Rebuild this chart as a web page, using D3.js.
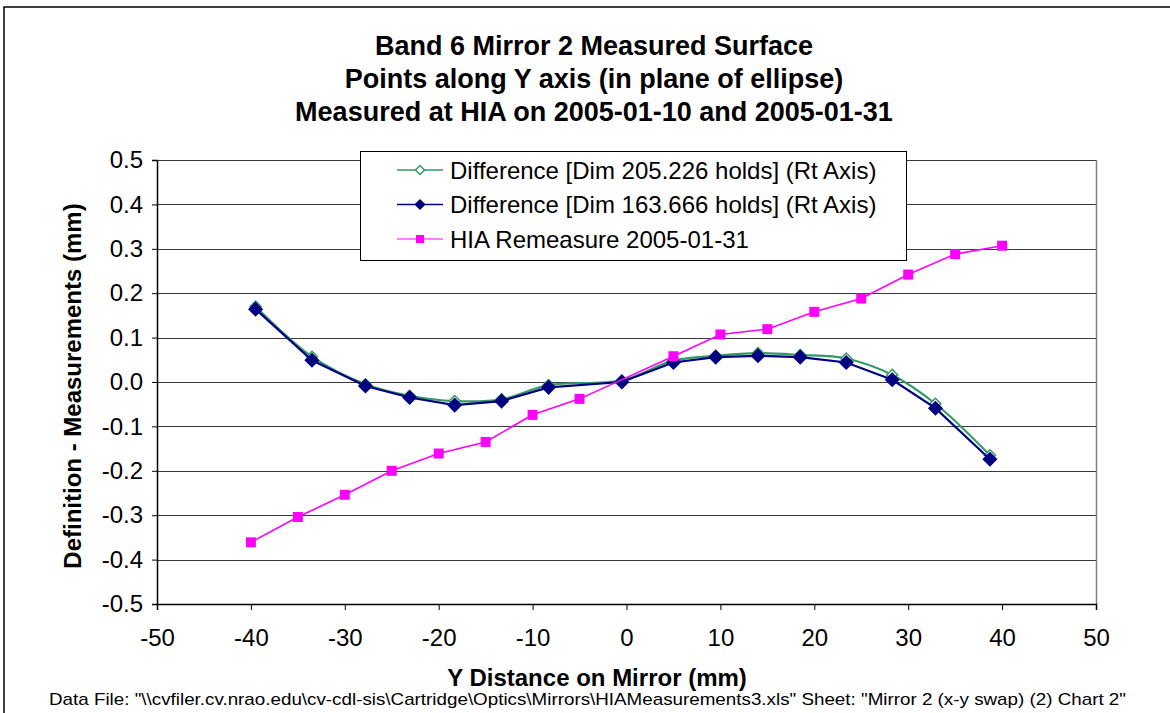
<!DOCTYPE html>
<html>
<head>
<meta charset="utf-8">
<script src="https://cdn.jsdelivr.net/npm/d3@7"></script>
<style>
  body { margin: 0; background: #fff; }
  svg { display: block; font-family: "Liberation Sans", Arial, sans-serif; }
</style>
</head>
<body>
<svg width="1170" height="713"></svg>
<script>
// data
var titleLines = ['Band 6 Mirror 2 Measured Surface',
                  'Points along Y axis (in plane of ellipse)',
                  'Measured at HIA on 2005-01-10 and 2005-01-31'];
var seriesNames = ['Difference [Dim 205.226 holds] (Rt Axis)',
                   'Difference [Dim 163.666 holds] (Rt Axis)',
                   'HIA Remeasure 2005-01-31'];

var diffX = [-39.5, -33.5, -27.8, -23.1, -18.3, -13.3, -8.3, -0.5, 5.0, 9.5, 14.0, 18.5, 23.4, 28.3, 32.9, 38.7];
var dim205 = [0.170, 0.057, -0.005, -0.031, -0.043, -0.039, -0.007, 0.004, 0.048, 0.059, 0.065, 0.061, 0.053, 0.016, -0.049, -0.165];
var dim163 = [0.164, 0.049, -0.009, -0.035, -0.052, -0.043, -0.012, 0.000, 0.044, 0.056, 0.059, 0.056, 0.044, 0.005, -0.059, -0.174];

var hiaX = [-40, -35, -30, -25, -20, -15, -10, -5, 5, 10, 15, 20, 25, 30, 35, 40];
var hia = [-0.361, -0.304, -0.254, -0.200, -0.161, -0.135, -0.074, -0.038, 0.058, 0.107, 0.119, 0.158, 0.188, 0.242, 0.288, 0.307];

var xTicks = [-50, -40, -30, -20, -10, 0, 10, 20, 30, 40, 50];
var yTicks = [-0.5, -0.4, -0.3, -0.2, -0.1, 0, 0.1, 0.2, 0.3, 0.4, 0.5];

var svg = d3.select('svg');

var plot = {left: 157, right: 1096, top: 160, bottom: 604};

var x = d3.scaleLinear().domain([-50, 50]).range([plot.left, plot.right]);
var y = d3.scaleLinear().domain([-0.5, 0.5]).range([plot.bottom, plot.top]);

// outer chart border (runs off the right and bottom of the picture)
svg.append('rect')
    .attr('x', 4).attr('y', 7)
    .attr('width', 1200).attr('height', 800)
    .attr('fill', 'none')
    .attr('stroke', '#000')
    .attr('stroke-width', 1.5);

// title
svg.append('g').selectAll('text')
    .data(titleLines)
    .enter()
    .append('text')
    .attr('x', 594)
    .attr('y', function(d, i) { return 55 + i * 33; })
    .attr('text-anchor', 'middle')
    .style('font-size', '27px')
    .style('font-weight', 'bold')
    .text(function(d) { return d; });

// grid lines
svg.append('g').selectAll('line')
    .data(yTicks)
    .enter()
    .append('line')
    .attr('x1', plot.left).attr('x2', plot.right)
    .attr('y1', function(d) { return Math.round(y(d)) + 0.5; })
    .attr('y2', function(d) { return Math.round(y(d)) + 0.5; })
    .attr('stroke', '#3a3a3a')
    .attr('stroke-width', 1);

// right edge of plot area
svg.append('line')
    .attr('x1', plot.right + 0.5).attr('x2', plot.right + 0.5)
    .attr('y1', plot.top).attr('y2', plot.bottom)
    .attr('stroke', '#808080')
    .attr('stroke-width', 1.5);

// axes
var yAxis = d3.axisLeft(y)
    .tickValues(yTicks)
    .tickSize(5)
    .tickPadding(9)
    .tickFormat(function(d) { return (Math.abs(d) < 1e-9 ? 0 : d).toFixed(1); });

var xAxis = d3.axisBottom(x)
    .tickValues(xTicks)
    .tickSize(6)
    .tickPadding(19)
    .tickFormat(function(d) { return String(d); });

var yG = svg.append('g')
    .attr('transform', 'translate(' + plot.left + ',0)')
    .call(yAxis);
var xG = svg.append('g')
    .attr('transform', 'translate(0,' + plot.bottom + ')')
    .call(xAxis);

[yG, xG].forEach(function(g) {
    g.select('.domain').attr('stroke', '#000').attr('stroke-width', 1.5);
    g.selectAll('.tick line').attr('stroke', '#000');
    g.selectAll('.tick text')
        .attr('fill', '#000')
        .style('font-size', '24px')
        .style('font-family', '"Liberation Sans", Arial, sans-serif');
});

// axis titles
svg.append('text')
    .attr('transform', 'translate(81,386) rotate(-90)')
    .attr('text-anchor', 'middle')
    .style('font-size', '24px')
    .style('font-weight', 'bold')
    .text('Definition - Measurements (mm)');

svg.append('text')
    .attr('x', 597)
    .attr('y', 686)
    .attr('text-anchor', 'middle')
    .style('font-size', '24px')
    .style('font-weight', 'bold')
    .text('Y Distance on Mirror (mm)');

// footer
svg.append('text')
    .attr('x', 49)
    .attr('y', 705)
    .attr('textLength', 1077)
    .attr('lengthAdjust', 'spacingAndGlyphs')
    .style('font-size', '17px')
    .text('Data File: "\\\\cvfiler.cv.nrao.edu\\cv-cdl-sis\\Cartridge\\Optics\\Mirrors\\HIAMeasurements3.xls"  Sheet: "Mirror 2 (x-y swap) (2) Chart 2"');

// series
function pts(xs, ys) {
    return xs.map(function(v, i) { return {x: v, y: ys[i]}; });
}

// square diamond (equal width and height), r = half diagonal
function diamondPath(r) {
    return 'M0,' + (-r) + 'L' + r + ',0L0,' + r + 'L' + (-r) + ',0Z';
}

var lineStraight = d3.line()
    .x(function(d) { return x(d.x); })
    .y(function(d) { return y(d.y); });
var lineSmooth = d3.line()
    .curve(d3.curveCatmullRom.alpha(0.5))
    .x(function(d) { return x(d.x); })
    .y(function(d) { return y(d.y); });

var series = [
    {name: seriesNames[0], data: pts(diffX, dim205), color: '#339966', line: lineSmooth, width: 2.2,
     marker: 'diamond', size: 5.5, fill: '#fff'},
    {name: seriesNames[1], data: pts(diffX, dim163), color: '#000080', line: lineStraight, width: 2.2,
     marker: 'diamond', size: 6.5, fill: '#000080'},
    {name: seriesNames[2], data: pts(hiaX, hia), color: '#ff00ff', line: lineStraight, width: 1.6,
     marker: 'square', size: 10, fill: '#ff00ff'}
];

function drawMarker(g, s, size, cx, cy) {
    if (s.marker === 'diamond') {
        g.append('path')
            .attr('d', diamondPath(size))
            .attr('transform', 'translate(' + cx + ',' + cy + ')')
            .attr('fill', s.fill)
            .attr('stroke', s.color)
            .attr('stroke-width', 1.5);
    } else {
        g.append('rect')
            .attr('x', cx - size / 2).attr('y', cy - size / 2)
            .attr('width', size).attr('height', size)
            .attr('fill', s.fill);
    }
}

series.forEach(function(s) {
    var g = svg.append('g');
    g.append('path')
        .attr('d', s.line(s.data))
        .attr('fill', 'none')
        .attr('stroke', s.color)
        .attr('stroke-width', s.width);
    s.data.forEach(function(d) {
        drawMarker(g, s, s.size, x(d.x), y(d.y));
    });
});

// legend
var legend = svg.append('g');
legend.append('rect')
    .attr('x', 360.5).attr('y', 151.5)
    .attr('width', 546).attr('height', 109)
    .attr('fill', '#fff')
    .attr('stroke', '#000')
    .attr('stroke-width', 1);

series.forEach(function(s, i) {
    var ry = 170 + i * 34.5;
    var row = legend.append('g');
    row.append('line')
        .attr('x1', 397).attr('x2', 443)
        .attr('y1', ry).attr('y2', ry)
        .attr('stroke', s.color)
        .attr('stroke-width', s.width * 0.7);
    drawMarker(row, s, s.marker === 'diamond' ? 4.5 : 8, 420, ry);
    row.append('text')
        .attr('x', 450)
        .attr('y', ry + 8.5)
        .style('font-size', '24px')
        .text(s.name);
});
</script>
</body>
</html>
